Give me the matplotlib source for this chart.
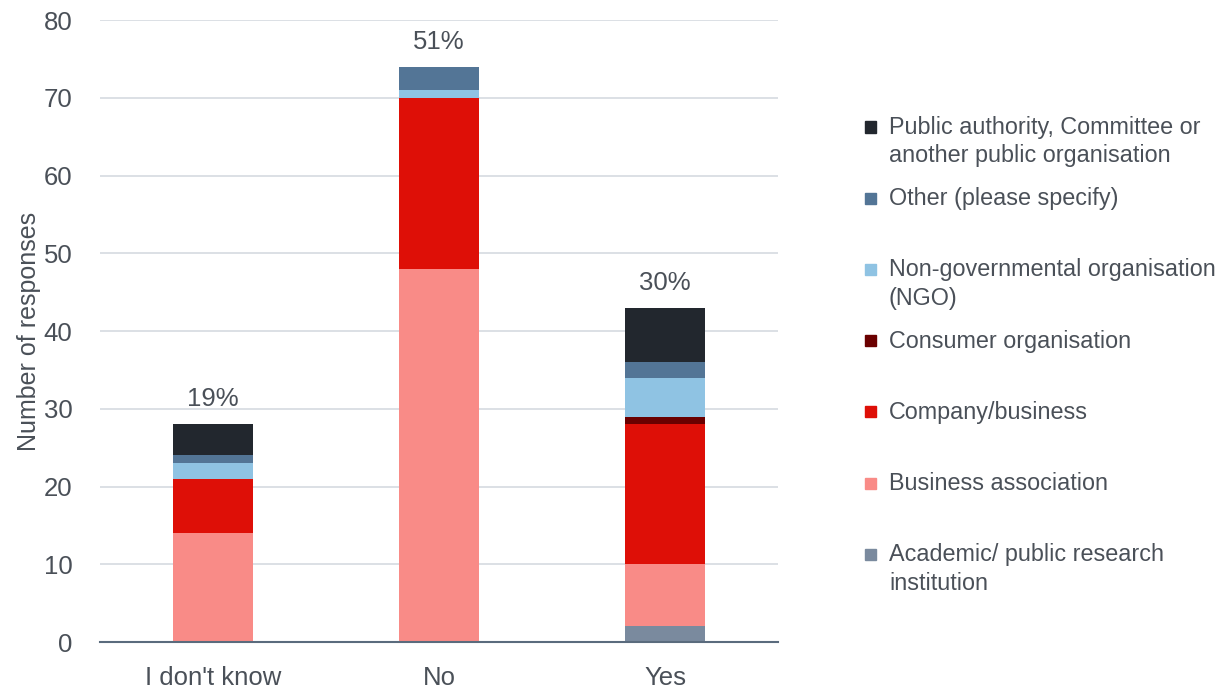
import numpy as np
import matplotlib
matplotlib.use("Agg")
import matplotlib.pyplot as plt
from matplotlib.patches import Rectangle

plt.rcParams['font.family'] = ['Liberation Sans', 'DejaVu Sans']

# ─── DATA ─────────────────────────────────────────────────────────────────────
answers = ["I don't know", "No", "Yes"]

# stacked bottom -> top
academic   = [0, 0, 2]
business_a = [14, 48, 8]
company    = [7, 22, 18]
consumer   = [0, 0, 1]
ngo        = [2, 1, 5]
other      = [1, 3, 2]
public     = [4, 0, 7]

series = [
    ("Academic/ public research\ninstitution", academic, '#7a8a9e'),
    ("Business association", business_a, '#f98b87'),
    ("Company/business", company, '#de0f07'),
    ("Consumer organisation", consumer, '#6a0000'),
    ("Non-governmental organisation\n(NGO)", ngo, '#8fc3e3'),
    ("Other (please specify)", other, '#537596'),
    ("Public authority, Committee or\nanother public organisation", public, '#22272e'),
]

TXT = '#4a5058'

# ─── PLOT ─────────────────────────────────────────────────────────────────────
fig = plt.figure(figsize=(12.26, 6.91), dpi=100)
ax = fig.add_axes([0.0816, 0.0709, 0.5530, 0.9001])

x = np.arange(len(answers))
bottom = np.zeros(len(answers))
for label, vals, col in series:
    vals = np.array(vals, dtype=float)
    ax.bar(x, vals, bottom=bottom, width=0.354, color=col, zorder=3)
    bottom += vals

totals = bottom
grand = totals.sum()
for xi, t in zip(x, totals):
    ax.annotate(f"{round(100 * t / grand):.0f}%", (xi, t), xytext=(0, 18),
                textcoords='offset points', ha='center', va='center',
                fontsize=18.5, color=TXT)

ax.set_xlim(-0.5, 2.5)
ax.set_ylim(0, 80)
ax.set_yticks(range(0, 81, 10))
ax.set_xticks(x)
ax.set_xticklabels(answers)
ax.tick_params(axis='both', length=0, labelsize=18.5, colors=TXT)
ax.tick_params(axis='y', pad=20)
ax.tick_params(axis='x', pad=17)
ax.grid(axis='y', color='#d9dde3', linewidth=1.3, zorder=0)
for s in ['top', 'right', 'left']:
    ax.spines[s].set_visible(False)
ax.spines['bottom'].set_color('#5a6b7d')
ax.spines['bottom'].set_linewidth(1.5)
ax.spines['bottom'].set_zorder(4)
ax.set_ylabel('Number of responses', fontsize=18, color=TXT, labelpad=2)

# ─── LEGEND (fixed pitch, top entry first) ────────────────────────────────────
W, H = 1226, 691
y0, pitch = 127, 71.2
for i, (label, vals, col) in enumerate(reversed(series)):
    yc = y0 + i * pitch
    fig.patches.append(Rectangle(((870 - 5.5) / W, 1 - (yc + 5.5) / H), 11 / W, 11 / H,
                                 transform=fig.transFigure, color=col))
    fig.text(889 / W, 1 - (yc - 11) / H, label, fontsize=16.8, color=TXT,
             va='top', ha='left', linespacing=1.3)

fig.savefig('out.png', dpi=100)
